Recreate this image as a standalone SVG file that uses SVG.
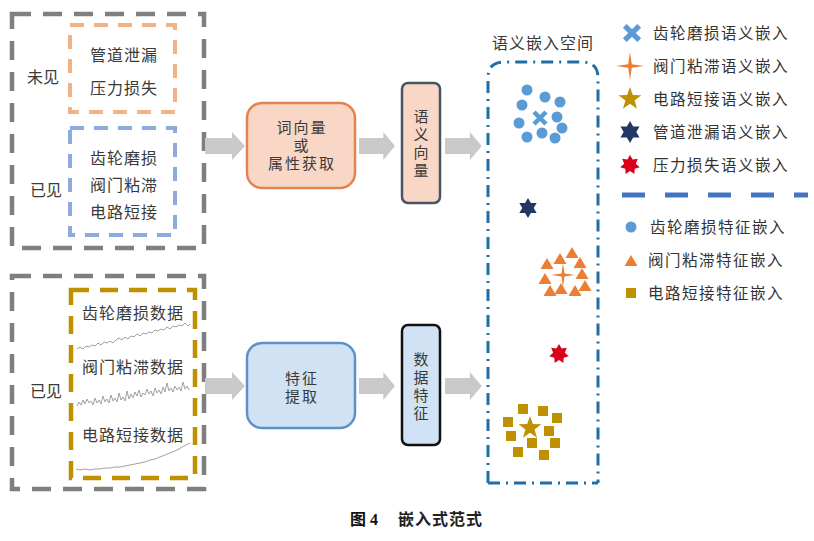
<svg xmlns="http://www.w3.org/2000/svg" xmlns:xlink="http://www.w3.org/1999/xlink" width="814" height="541" viewBox="0 0 814 541">
<style>
  text { font-family: "Noto Sans CJK SC", "Noto Sans", sans-serif; fill: #3a3a3a; }
  .t17 { font-size: 16px; letter-spacing: 1px; }
  .t16 { font-size: 16px; }
  .tb { font-family: "Liberation Sans", "Noto Sans CJK SC", sans-serif; font-size: 15px; letter-spacing: 2px; }
  .tv { font-family: "Liberation Sans", "Noto Sans CJK SC", sans-serif; font-size: 15px; }
  .leg { font-size: 15.5px; letter-spacing: 1.5px; fill: #333; }
  .grayBox { fill: none; stroke: #7f7f7f; stroke-width: 4.5; stroke-dasharray: 19 12; }
  .orgBox { fill: none; stroke: #f4b183; stroke-width: 4; stroke-dasharray: 14 10; }
  .bluBox { fill: none; stroke: #8faadc; stroke-width: 4; stroke-dasharray: 14 10; }
  .gldBox { fill: none; stroke: #bf9000; stroke-width: 4.5; stroke-dasharray: 18 11; }
  .arrow { fill: #c9c9c9; }
  .wave { fill: none; stroke: #a0a0a0; stroke-width: 1; }
  .circ { fill: #5b9bd5; }
  .tri { fill: #ed7d31; }
  .sq { fill: #bf9000; }
</style>
<defs>
  <polygon id="arr" points="0,-8 27,-8 27,-14 40,0 27,14 27,8 0,8"/>
  <polygon id="hex" points="0,-10 2.89,-5 8.66,-5 5.77,0 8.66,5 2.89,5 0,10 -2.89,5 -8.66,5 -5.77,0 -8.66,-5 -2.89,-5"/>
  <polygon id="sev" points="0,-10 2.6,-5.41 7.82,-6.23 5.85,-1.34 9.75,2.23 4.69,3.74 4.34,9.01 0,6 -4.34,9.01 -4.69,3.74 -9.75,2.23 -5.85,-1.34 -7.82,-6.23 -2.6,-5.41"/>
  <polygon id="five" points="0,-12 2.82,-3.88 11.41,-3.71 4.56,1.48 7.05,9.71 0,4.8 -7.05,9.71 -4.56,1.48 -11.41,-3.71 -2.82,-3.88"/>
  <polygon id="four" points="0,-14 1.8,-1.8 14,0 1.8,1.8 0,14 -1.8,1.8 -14,0 -1.8,-1.8"/>
  <polygon id="tri" points="0,-6 6.5,5 -6.5,5"/>
  <rect id="sq" x="-5" y="-5" width="10" height="10"/>
  <path id="cross" d="M-6,-6 L6,6 M6,-6 L-6,6" stroke="#5b9bd5" stroke-width="4.5" fill="none"/>
</defs>

<!-- Top-left: labels -->
<g id="label-group-top">
  <rect class="grayBox" x="12" y="14" width="192" height="234"/>
  <text class="t16" x="27" y="83">未见</text>
  <text class="t16" x="30" y="196">已见</text>
</g>
<g id="unseen-box">
  <rect class="orgBox" x="70" y="25" width="105" height="87"/>
  <text class="t17" x="124" y="61" text-anchor="middle">管道泄漏</text>
  <text class="t17" x="124" y="94" text-anchor="middle">压力损失</text>
</g>
<g id="seen-box">
  <rect class="bluBox" x="70" y="128" width="105" height="107"/>
  <text class="t17" x="124" y="164" text-anchor="middle">齿轮磨损</text>
  <text class="t17" x="124" y="191" text-anchor="middle">阀门粘滞</text>
  <text class="t17" x="124" y="218" text-anchor="middle">电路短接</text>
</g>

<!-- Bottom-left: data -->
<g id="data-group">
  <rect class="grayBox" x="12" y="276" width="192" height="213"/>
  <text class="t16" x="30" y="397">已见</text>
</g>
<g id="data-box">
  <rect class="gldBox" x="71" y="290" width="124" height="188"/>
  <text class="t17" x="133" y="319" text-anchor="middle">齿轮磨损数据</text>
  <text class="t17" x="133" y="373" text-anchor="middle">阀门粘滞数据</text>
  <text class="t17" x="133" y="441" text-anchor="middle">电路短接数据</text>
  <polyline class="wave" points="77,349 80,347 83,349 86,346 89,347 92,345 95,346 98,343 101,345 104,342 107,343 110,341 113,343 116,340 119,338 122,340 125,337 128,339 131,336 134,337 137,334 140,336 143,333 146,334 149,332 152,333 155,330 158,331 161,329 164,330 167,327 170,329 173,326 176,327 179,325 182,326 185,323 188,326 190,324"/>
  <polyline class="wave" points="77,406 79,402 81,405 83,400 85,404 87,399 89,403 91,401 93,405 95,398 97,403 99,400 101,404 103,396 105,402 107,399 109,403 111,395 113,401 115,398 117,402 119,393 121,400 123,397 125,401 127,391 129,399 131,394 133,398 135,392 137,396 139,390 141,397 143,393 145,395 147,389 149,394 151,391 153,396 155,388 157,393 159,390 161,394 163,387 165,392 167,383 169,391 171,388 173,392 175,386 177,390 179,387 181,391 183,382 185,389 187,386 189,390"/>
  <polyline class="wave" points="76,469 80,470 85,469 90,470 95,469 100,469 105,468 110,468 115,467 120,467 125,466 130,465 135,464 140,463 145,462 150,460 155,459 160,457 165,455 170,453 175,451 179,449 182,447 186,445 190,443"/>
</g>

<!-- Process boxes -->
<g id="word-vector-box">
  <rect x="247" y="103" width="108" height="85" rx="15" fill="#f8d7c6" stroke="#e5834f" stroke-width="2.5"/>
  <text class="tb" x="302" y="133" text-anchor="middle">词向量</text>
  <text class="tb" x="302" y="151" text-anchor="middle">或</text>
  <text class="tb" x="302" y="169" text-anchor="middle">属性获取</text>
</g>
<g id="semantic-vector-box">
  <rect x="402" y="83" width="38" height="120" rx="6" fill="#f8d7c6" stroke="#4a5464" stroke-width="2.5"/>
  <text class="tv" x="421" y="122" text-anchor="middle">语</text>
  <text class="tv" x="421" y="140" text-anchor="middle">义</text>
  <text class="tv" x="421" y="158" text-anchor="middle">向</text>
  <text class="tv" x="421" y="176" text-anchor="middle">量</text>
</g>
<g id="feature-extract-box">
  <rect x="247" y="343" width="108" height="85" rx="15" fill="#d0e2f3" stroke="#5b93c8" stroke-width="2.5"/>
  <text class="tb" x="302" y="384" text-anchor="middle">特征</text>
  <text class="tb" x="302" y="402" text-anchor="middle">提取</text>
</g>
<g id="data-feature-box">
  <rect x="402" y="325" width="38" height="120" rx="6" fill="#d0e2f3" stroke="#111" stroke-width="2.5"/>
  <text class="tv" x="421" y="365" text-anchor="middle">数</text>
  <text class="tv" x="421" y="383" text-anchor="middle">据</text>
  <text class="tv" x="421" y="401" text-anchor="middle">特</text>
  <text class="tv" x="421" y="419" text-anchor="middle">征</text>
</g>

<!-- Connectors -->
<g id="connectors">
  <use href="#arr" class="arrow" transform="translate(205,146)"/>
  <use href="#arr" class="arrow" transform="translate(359,146) scale(0.9,1)"/>
  <use href="#arr" class="arrow" transform="translate(445,146) scale(0.92,1)"/>
  <use href="#arr" class="arrow" transform="translate(205,386)"/>
  <use href="#arr" class="arrow" transform="translate(359,386) scale(0.9,1)"/>
  <use href="#arr" class="arrow" transform="translate(445,386) scale(0.92,1)"/>
</g>

<!-- Embedding space -->
<g id="embedding-space">
  <text class="t16" x="543" y="49" text-anchor="middle" style="letter-spacing:1px">语义嵌入空间</text>
  <path d="M488,483 L488,78 Q488,62 504,62 L582,62 Q598,62 598,78 L598,483" fill="none" stroke="#1f6ea6" stroke-width="3" stroke-dasharray="12 6 2 6"/>
  <path d="M488,483 L598,483" fill="none" stroke="#1f6ea6" stroke-width="3" stroke-dasharray="12 6 2 6"/>
  <g class="circ">
    <circle cx="527" cy="90" r="5.5"/><circle cx="545" cy="97" r="5.5"/><circle cx="560" cy="102" r="5.5"/>
    <circle cx="522" cy="105" r="5.5"/><circle cx="557" cy="117" r="5.5"/><circle cx="519" cy="123" r="5.5"/>
    <circle cx="562" cy="128" r="5.5"/><circle cx="527" cy="137" r="5.5"/><circle cx="542" cy="133" r="5.5"/>
    <circle cx="555" cy="138" r="5.5"/>
  </g>
  <use href="#cross" transform="translate(540,118)"/>
  <use href="#hex" fill="#203864" transform="translate(528,208)"/>
  <g class="tri">
    <use href="#tri" transform="translate(572,253)"/><use href="#tri" transform="translate(560,259)"/>
    <use href="#tri" transform="translate(547,264)"/><use href="#tri" transform="translate(580,263)"/>
    <use href="#tri" transform="translate(545,279)"/><use href="#tri" transform="translate(582,274)"/>
    <use href="#tri" transform="translate(585,286)"/><use href="#tri" transform="translate(550,291)"/>
    <use href="#tri" transform="translate(561,289)"/><use href="#tri" transform="translate(575,291)"/>
  </g>
  <use href="#four" fill="#ed7d31" transform="translate(563,275) scale(0.85)"/>
  <use href="#sev" fill="#d9001b" transform="translate(559,354)"/>
  <g class="sq">
    <use href="#sq" transform="translate(523,409)"/><use href="#sq" transform="translate(543,411)"/>
    <use href="#sq" transform="translate(557,418)"/><use href="#sq" transform="translate(508,422)"/>
    <use href="#sq" transform="translate(549,431)"/><use href="#sq" transform="translate(511,436)"/>
    <use href="#sq" transform="translate(532,443)"/><use href="#sq" transform="translate(555,443)"/>
    <use href="#sq" transform="translate(518,452)"/><use href="#sq" transform="translate(544,455)"/>
  </g>
  <use href="#five" fill="#bf9000" transform="translate(530,428)"/>
</g>

<!-- Legend -->
<g id="legend">
  <use href="#cross" transform="translate(632,33) scale(1.2)"/>
  <text class="leg" x="653" y="39">齿轮磨损语义嵌入</text>
  <use href="#four" fill="#ed7d31" transform="translate(630,66)"/>
  <text class="leg" x="653" y="72">阀门粘滞语义嵌入</text>
  <use href="#five" fill="#bf9000" transform="translate(630,99)"/>
  <text class="leg" x="653" y="105">电路短接语义嵌入</text>
  <use href="#hex" fill="#203864" transform="translate(630,132) scale(1.1)"/>
  <text class="leg" x="653" y="138">管道泄漏语义嵌入</text>
  <use href="#sev" fill="#d9001b" transform="translate(630,165)"/>
  <text class="leg" x="653" y="171">压力损失语义嵌入</text>
  <line x1="622" y1="195" x2="808" y2="195" stroke="#4472c4" stroke-width="5" stroke-dasharray="23 20"/>
  <circle class="circ" cx="631" cy="227" r="5.5"/>
  <text class="leg" x="650" y="233">齿轮磨损特征嵌入</text>
  <use href="#tri" class="tri" transform="translate(631,261)"/>
  <text class="leg" x="648" y="266">阀门粘滞特征嵌入</text>
  <use href="#sq" class="sq" transform="translate(631,293)"/>
  <text class="leg" x="648" y="299">电路短接特征嵌入</text>
</g>

<!-- Caption -->
<g id="caption">
  <text x="350" y="525" style="font-family:'Liberation Serif','Noto Sans CJK SC',serif;font-size:16px;font-weight:bold;fill:#111">图 4</text>
  <text x="398" y="525" style="font-size:16px;font-weight:bold;fill:#222;letter-spacing:1px">嵌入式范式</text>
</g>
</svg>
